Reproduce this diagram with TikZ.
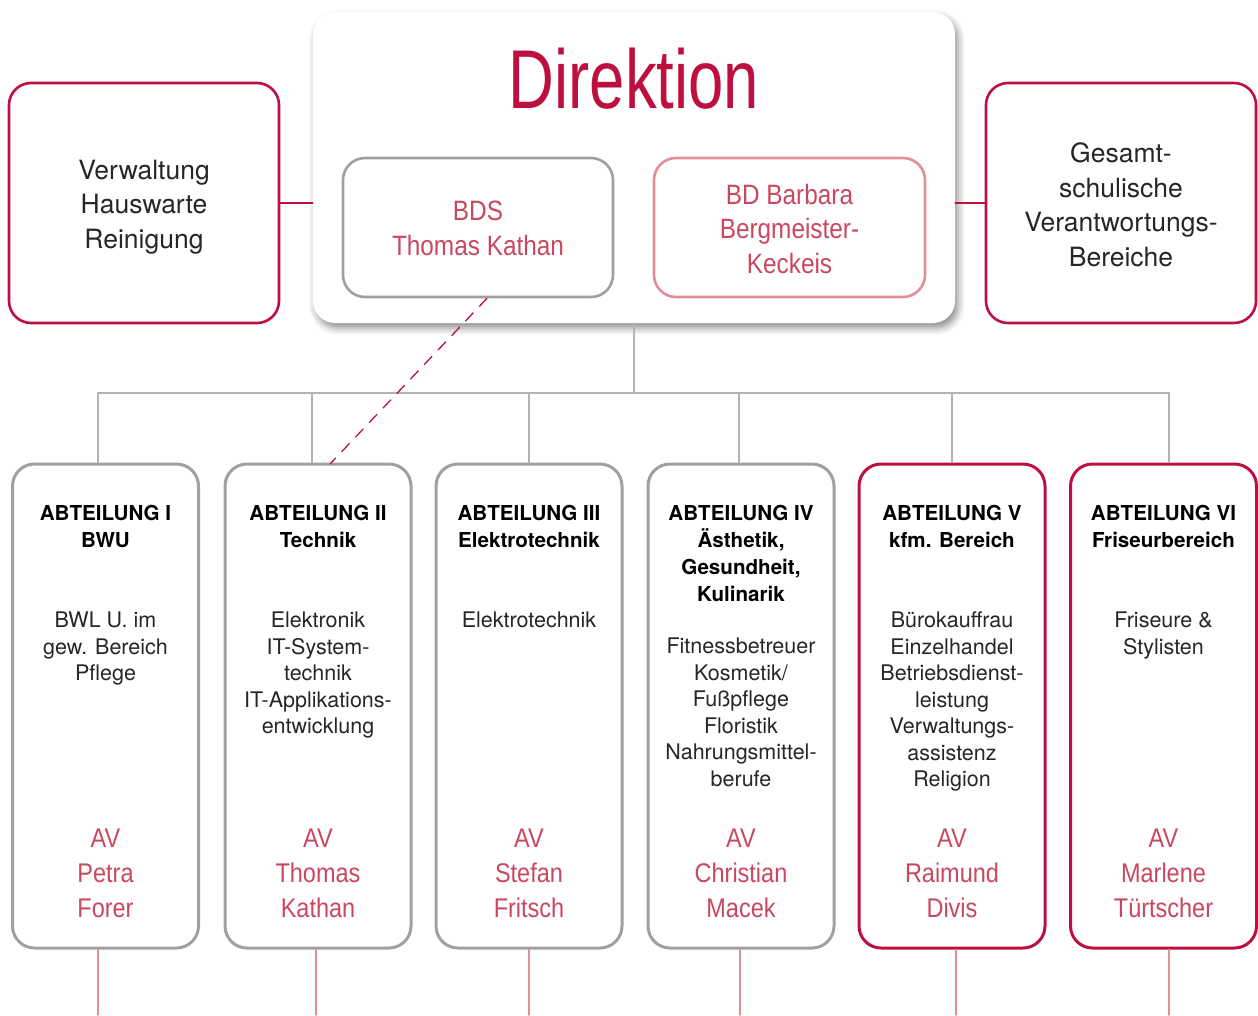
\documentclass[tikz,border=0pt]{standalone}
\usepackage{fontspec}
\setmainfont{TeX Gyre Heros}
\newfontfamily\dinfont[FakeStretch=0.87]{Liberation Sans}
\newfontfamily\dirfont[FakeStretch=0.76]{Liberation Sans}
\usetikzlibrary{shadows.blur}
\definecolor{crim}{RGB}{190,16,64}
\definecolor{namered}{RGB}{201,72,96}
\definecolor{rose}{RGB}{226,142,150}
\definecolor{boxgrey}{RGB}{160,160,160}
\definecolor{linegrey}{RGB}{178,178,178}
\tikzset{
  orgbox/.style={draw=#1, line width=2.6pt, rounded corners=22pt, fill=white, inner sep=0pt},
  plain/.style={align=center, inner sep=0pt, anchor=north},
  headtxt/.style={plain, font=\bfseries\fontsize{20.6}{27}\selectfont},
  bodytxt/.style={plain, text=black!85, font=\fontsize{21.5}{26.5}\selectfont},
  nametxt/.style={plain, text=namered, font=\dinfont\fontsize{27}{35}\selectfont},
  bigtxt/.style={plain, text=black!85, font=\fontsize{26.5}{34.5}\selectfont},
  busline/.style={draw=linegrey, line width=1.3pt},
  footline/.style={draw=rose, line width=1.3pt},
  redline/.style={draw=crim, line width=1.6pt},
  dashline/.style={draw=crim, line width=1.3pt, dash pattern=on 11pt off 9pt}
}
\begin{document}
\begin{tikzpicture}[x=1pt, y=-1pt, line cap=round]
  \useasboundingbox (0,0) rectangle (1258,1015);
  % Direktion
  \node[fill=white, rounded corners=22pt, minimum width=642pt, minimum height=311pt,
    blur shadow={shadow xshift=3pt, shadow yshift=-5pt, shadow blur radius=7pt, shadow opacity=45}] (dir) at (634,167.5) {};
  \node[plain, text=crim, font=\dirfont\fontsize{83.5}{90}\selectfont] (dirtitle) at (634,48) {Direktion};
  \node[orgbox=boxgrey, minimum width=270pt, minimum height=139pt] (bds) at (478,227.5) {};
  \node[nametxt, font=\dinfont\fontsize{28}{35}\selectfont] (bdstxt) at (478,201) {BDS\\Thomas Kathan};
  \node[orgbox=rose, minimum width=271pt, minimum height=139pt] (bd) at (789.5,227.5) {};
  \node[nametxt, font=\dinfont\fontsize{28}{34.5}\selectfont] (bdtxt) at (789.5,184) {BD Barbara\\Bergmeister-\\Keckeis};
  % side boxes
  \node[orgbox=crim, minimum width=270pt, minimum height=240pt] (verw) at (144,203) {};
  \node[bigtxt] (verwtxt) at (144,159.5) {Verwaltung\\Hauswarte\\Reinigung};
  \node[orgbox=crim, minimum width=270pt, minimum height=240pt] (ges) at (1121,203) {};
  \node[bigtxt] (gestxt) at (1121,142.5) {Gesamt-\\schulische\\Verantwortungs-\\Bereiche};
  \draw[redline] (verw.east) -- (verw.east -| dir.west);
  \draw[redline] (ges.west) -- (ges.west -| dir.east);
  % bus
  \coordinate (busmid) at (634,393);
  \coordinate (busL) at (98,393);
  \coordinate (busR) at (1169,393);
  \draw[busline] (dir.south) -- (busmid);
  \draw[busline] (busL) -- (busR);
  % Abteilungen
  \foreach \i/\cx/\dx/\bx/\col/\head/\by/\body/\who in {
    1/105.5/98/98/boxgrey/{ABTEILUNG I\\BWU}/612/{BWL U. im\\gew. Bereich\\Pflege}/{Petra\\Forer},
    2/318/312/316/boxgrey/{ABTEILUNG II\\Technik}/612/{Elektronik\\IT-System-\\technik\\IT-Applikations-\\entwicklung}/{Thomas\\Kathan},
    3/529/529/529/boxgrey/{ABTEILUNG III\\Elektrotechnik}/612/{Elektrotechnik}/{Stefan\\Fritsch},
    4/741/739/740/boxgrey/{ABTEILUNG IV\\Ästhetik,\\Gesundheit,\\Kulinarik}/638/{Fitnessbetreuer\\Kosmetik/\\Fußpflege\\Floristik\\Nahrungsmittel-\\berufe}/{Christian\\Macek},
    5/952/952/956/crim/{ABTEILUNG V\\kfm. Bereich}/612/{Bürokauffrau\\Einzelhandel\\Betriebsdienst-\\leistung\\Verwaltungs-\\assistenz\\Religion}/{Raimund\\Divis},
    6/1163.5/1169/1169/crim/{ABTEILUNG VI\\Friseurbereich}/612/{Friseure \&\\Stylisten}/{Marlene\\Türtscher}}{
    \node[orgbox=\col, line width=3pt, minimum width=186pt, minimum height=484pt] (ab\i) at (\cx,706) {};
    \node[headtxt] (head\i) at (\cx,505) {\head};
    \node[bodytxt] (body\i) at (\cx,\by) {\body};
    \node[nametxt] (who\i) at (\cx,829) {AV\\\who};
    \coordinate (top\i) at (\dx,393);
    \coordinate (foot\i) at (\bx,1015);
    \draw[busline] (top\i) -- (top\i |- ab\i.north);
    \draw[footline] (foot\i |- ab\i.south) -- (foot\i);
  }
  % BDS zu Abteilung II
  \coordinate (dashend) at (330,464);
  \draw[dashline] ([xshift=9pt]bds.south) -- (dashend);
\end{tikzpicture}
\end{document}
